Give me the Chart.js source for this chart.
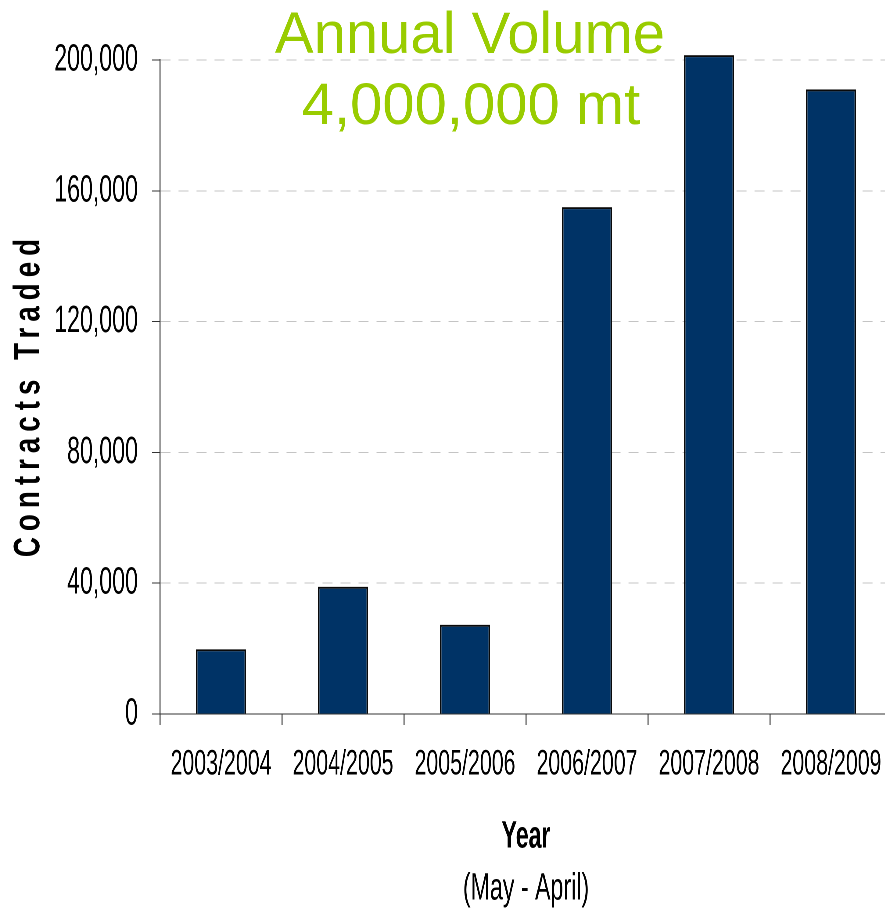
<!DOCTYPE html>
<html>
<head>
<meta charset="utf-8">
<title>Contracts Traded</title>
<script src="https://cdn.jsdelivr.net/npm/chart.js@4"></script>
<style>
  html, body { margin: 0; padding: 0; overflow: hidden; background: #fff; }
  #caixa { width: 885px; height: 911px; overflow: hidden; }
  /* the source chart uses a tall narrow face; squeeze the canvas sideways to get that look */
  #grafico { transform: scaleX(0.61); transform-origin: 0 0; }
</style>
</head>
<body>
<div id="caixa"><canvas id="grafico" width="1480" height="911"></canvas></div>
<script>
const anos = ["2003/2004", "2004/2005", "2005/2006", "2006/2007", "2007/2008", "2008/2009"];
const contratos = [19800, 38900, 27300, 155000, 201500, 191000];
const escalaY = { min: 0, max: 200000, passo: 40000 };
const titulo = ["Annual Volume", "4,000,000 mt"];
const tituloY = "Contracts Traded";
const tituloX = "Year";
const subtituloX = "(May - April)";

const aperto = 0.61; // must match the scaleX in the css
const fonte = "'Liberation Sans', Arial, sans-serif";

// px on screen -> px on the squeezed canvas
function largura(px) {
  return px / aperto;
}

// green headline and the spaced y title, drawn unsqueezed
const textosExtras = {
  id: "textosExtras",
  afterDraw(chart) {
    const ctx = chart.ctx;

    ctx.save();
    ctx.scale(1 / aperto, 1);
    ctx.fillStyle = "#99cc00";
    ctx.font = "58px " + fonte;
    ctx.textAlign = "center";
    ctx.textBaseline = "alphabetic";
    ctx.fillText(titulo[0], 470, 53);
    ctx.fillText(titulo[1], 471, 124);
    ctx.restore();

    ctx.save();
    ctx.scale(1 / aperto, 1);
    ctx.translate(29, 398);
    ctx.rotate(-Math.PI / 2);
    ctx.scale(0.75, 1);
    ctx.fillStyle = "#000";
    ctx.font = "bold 37px " + fonte;
    ctx.letterSpacing = "8px";
    ctx.textAlign = "center";
    ctx.textBaseline = "middle";
    ctx.fillText(tituloY, 4, 0);
    ctx.restore();
  },
};

function formatarNumero(valor) {
  return Number(valor).toLocaleString("en-US");
}

function configurarGrafico() {
  const ctx = document.getElementById("grafico").getContext("2d");
  return new Chart(ctx, {
    type: "bar",
    data: {
      labels: anos,
      datasets: [
        {
          label: tituloY,
          data: contratos,
          backgroundColor: "#003366",
          borderColor: "#0a0a0a",
          borderWidth: { top: 2, left: largura(1.5), right: largura(1.5), bottom: 0 },
          categoryPercentage: 1,
          barPercentage: 0.41,
          clip: false,
        },
      ],
    },
    options: {
      responsive: false,
      animation: false,
      devicePixelRatio: 2,
      layout: { padding: { top: 60, right: 1480 - largura(892), left: 0, bottom: 3 } },
      plugins: {
        legend: { display: false },
        tooltip: { enabled: false },
        title: { display: false },
        subtitle: {
          display: true,
          text: subtituloX,
          position: "bottom",
          fullSize: false,
          color: "#000",
          font: { family: fonte, size: 38, weight: "normal", lineHeight: 1 },
          padding: { top: 0, bottom: 0 },
        },
      },
      scales: {
        x: {
          afterFit(scale) {
            scale.height = 156;
          },
          grid: {
            drawOnChartArea: false,
            drawTicks: true,
            tickLength: 11,
            tickColor: "#8a8a8a",
            tickWidth: largura(1.5),
          },
          border: { color: "#333", width: 1 },
          ticks: {
            color: "#000",
            font: { family: fonte, size: 35 },
            padding: 19,
            maxRotation: 0,
            autoSkip: false,
          },
          title: {
            display: true,
            text: tituloX,
            color: "#000",
            font: { family: fonte, size: 38, weight: "bold", lineHeight: 1.2 },
            padding: { top: 0, bottom: 10 },
          },
        },
        y: {
          min: escalaY.min,
          max: escalaY.max,
          afterFit(scale) {
            scale.width = largura(160);
          },
          grid: {
            color: (c) => (c.tick && c.tick.value === 0 ? "rgba(0,0,0,0)" : "#c4c4c4"),
            lineWidth: 1,
            tickLength: largura(8),
            tickColor: "#333",
            tickWidth: 1,
          },
          border: { color: "#333", width: largura(1), dash: [largura(10), largura(8)] },
          ticks: {
            stepSize: escalaY.passo,
            color: "#000",
            font: { family: fonte, size: 38 },
            padding: 23,
            callback: formatarNumero,
          },
        },
      },
    },
    plugins: [textosExtras],
  });
}

configurarGrafico();
</script>
</body>
</html>
